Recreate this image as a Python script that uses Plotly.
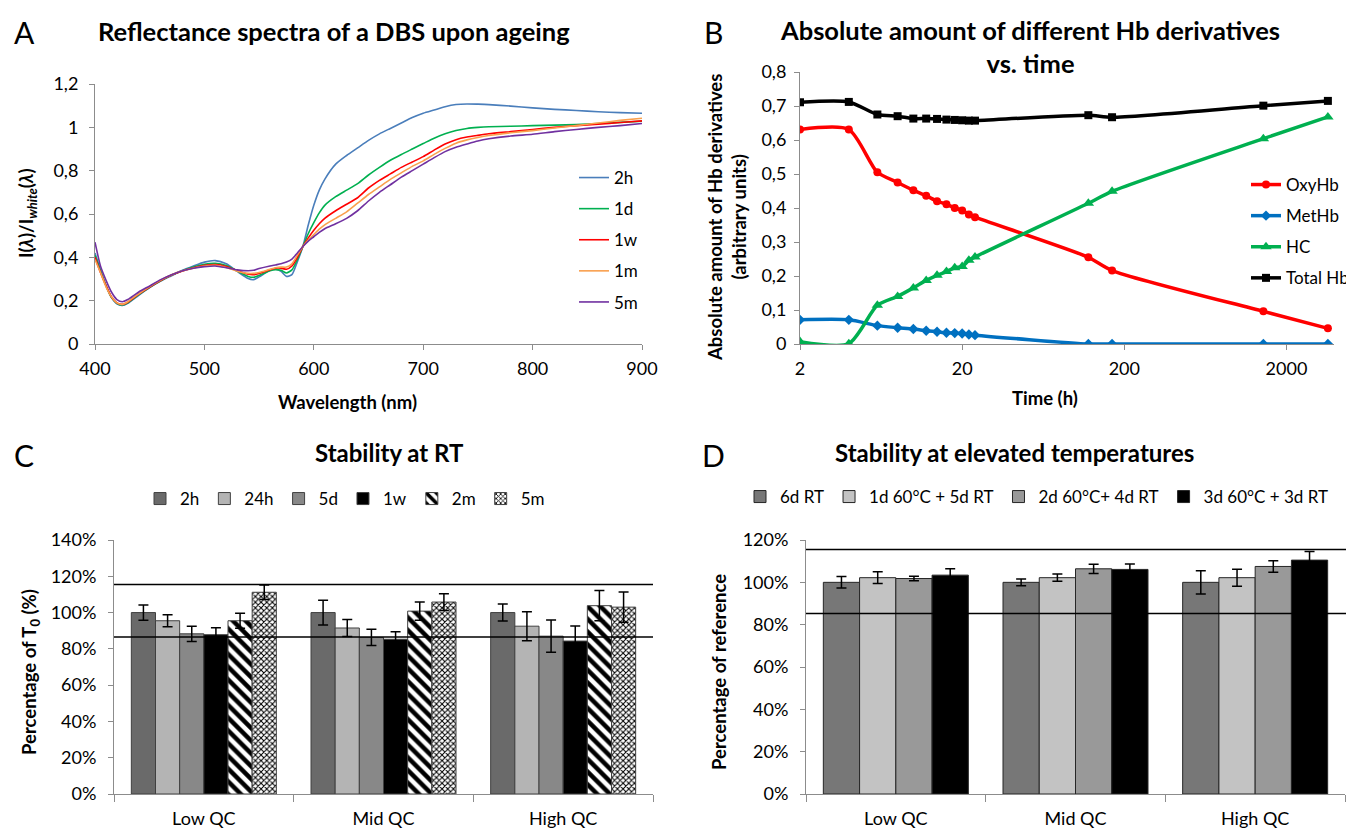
import plotly.graph_objects as go

# The page has an 8 px body margin, so the figure is sized to fill the rest of the window.
OFF = 8
FW, FH = 1354 - OFF, 828 - OFF
def px(x): return (x - OFF) / FW
def py(y): return 1 - (y - OFF) / FH

FONT = "Lato, Carlito, Calibri, sans-serif"

# ---------------- Panel A data: reflectance spectra ----------------
wavelength = [400,405,410,415,420,425,430,440,450,460,470,480,490,500,510,520,530,540,545,550,
              560,565,570,575,580,585,590,595,600,605,610,620,630,640,650,660,670,680,690,700,
              710,720,730,740,750,760,780,800,820,840,860,880,900]
refl_2h = [0.42,0.34,0.27,0.215,0.185,0.178,0.188,0.225,0.26,0.29,0.315,0.34,0.36,0.378,0.385,0.37,0.335,0.302,0.297,0.31,
           0.34,0.345,0.335,0.312,0.32,0.38,0.45,0.55,0.64,0.71,0.76,0.83,0.87,0.905,0.94,0.97,0.995,1.02,1.045,1.065,
           1.08,1.095,1.105,1.108,1.107,1.105,1.098,1.09,1.083,1.078,1.072,1.068,1.065]
refl_1d = [0.41,0.34,0.27,0.215,0.188,0.18,0.19,0.228,0.262,0.292,0.318,0.338,0.355,0.368,0.372,0.362,0.337,0.312,0.308,0.316,
           0.338,0.343,0.34,0.328,0.342,0.39,0.45,0.51,0.56,0.605,0.64,0.68,0.71,0.74,0.78,0.815,0.848,0.875,0.9,0.925,
           0.95,0.97,0.985,0.995,1.0,1.003,1.005,1.008,1.01,1.013,1.018,1.023,1.028]
refl_1w = [0.40,0.33,0.27,0.218,0.19,0.183,0.193,0.23,0.263,0.293,0.318,0.337,0.352,0.363,0.367,0.358,0.338,0.322,0.32,0.325,
           0.343,0.35,0.35,0.345,0.36,0.40,0.45,0.49,0.525,0.555,0.58,0.615,0.645,0.675,0.72,0.755,0.785,0.815,0.84,0.865,
           0.895,0.923,0.943,0.955,0.963,0.97,0.98,0.99,1.0,1.008,1.015,1.022,1.03]
refl_1m = [0.39,0.33,0.265,0.218,0.19,0.183,0.195,0.232,0.265,0.295,0.32,0.338,0.35,0.36,0.363,0.353,0.336,0.326,0.326,0.33,
           0.345,0.352,0.355,0.355,0.37,0.41,0.45,0.48,0.505,0.53,0.55,0.58,0.61,0.65,0.69,0.725,0.76,0.79,0.82,0.845,
           0.875,0.903,0.927,0.942,0.953,0.962,0.975,0.985,0.997,1.008,1.02,1.032,1.042]
refl_5m = [0.47,0.36,0.295,0.24,0.205,0.195,0.205,0.24,0.268,0.297,0.32,0.338,0.35,0.357,0.36,0.352,0.342,0.338,0.34,0.348,
           0.36,0.365,0.37,0.378,0.392,0.42,0.45,0.475,0.495,0.515,0.532,0.555,0.58,0.615,0.66,0.70,0.735,0.77,0.80,0.83,
           0.86,0.888,0.908,0.923,0.937,0.947,0.96,0.968,0.98,0.99,1.0,1.008,1.018]
spectra_names = ["2h", "1d", "1w", "1m", "5m"]
spectra_colors = ["#4a7ebb", "#00b050", "#ff0000", "#f9a04e", "#7030a0"]

# ---------------- Panel B data: Hb derivatives vs time ----------------
time_h = [2, 4, 6, 8, 10, 12, 14, 16, 18, 20, 22, 24, 120, 168, 1440, 3600]
oxyhb = [0.631,0.631,0.505,0.475,0.452,0.436,0.420,0.411,0.400,0.393,0.381,0.373,0.255,0.216,0.096,0.046]
methb = [0.071,0.071,0.054,0.048,0.044,0.039,0.036,0.033,0.032,0.031,0.028,0.026,0.0,0.0,0.0,0.0]
hc = [0.007,0.001,0.114,0.140,0.165,0.187,0.202,0.213,0.224,0.228,0.246,0.256,0.414,0.449,0.604,0.668]
total_hb = [0.711,0.712,0.675,0.670,0.663,0.663,0.662,0.660,0.659,0.658,0.657,0.657,0.673,0.667,0.701,0.715]

# ---------------- Panel C data: stability at RT ----------------
qc_levels = ["Low QC", "Mid QC", "High QC"]
rt_labels = ["2h", "24h", "5d", "1w", "2m", "5m"]
rt_2h = [100.0, 100.0, 100.0];  rt_2h_err = [4.2, 6.8, 4.7]
rt_24h = [95.5, 91.5, 92.5];    rt_24h_err = [3.3, 4.7, 8.0]
rt_5d = [88.3, 86.3, 87.0];     rt_5d_err = [4.2, 4.5, 8.9]
rt_1w = [87.8, 85.3, 84.3];     rt_1w_err = [3.8, 4.1, 8.3]
rt_2m = [95.5, 100.8, 103.8];   rt_2m_err = [4.1, 5.0, 8.3]
rt_5m = [111.2, 105.8, 103.0];  rt_5m_err = [4.0, 4.6, 8.3]
rt_limits = [115.5, 86.5]

# ---------------- Panel D data: elevated temperatures ----------------
el_labels = ["6d RT", "1d 60°C + 5d RT", "2d 60°C+ 4d RT", "3d 60°C + 3d RT"]
el_6d = [100.0, 100.0, 100.0];   el_6d_err = [2.7, 1.6, 5.5]
el_1d = [102.2, 102.2, 102.2];   el_1d_err = [2.8, 1.7, 4.0]
el_2d = [101.8, 106.4, 107.5];   el_2d_err = [1.1, 2.2, 2.7]
el_3d = [103.4, 106.1, 110.5];   el_3d_err = [3.0, 2.6, 4.1]
el_limits = [115.5, 85.3]

TICK = 18
LEG = 17

fig = go.Figure()

# Panel A
for name, ys, col in zip(spectra_names, [refl_2h, refl_1d, refl_1w, refl_1m, refl_5m], spectra_colors):
    fig.add_trace(go.Scatter(x=wavelength, y=ys, name=name, mode="lines",
                             line=dict(color=col, width=1.6, shape="spline", smoothing=0.6),
                             xaxis="x", yaxis="y", legend="legend", legendgroup=name))

# Panel B
b_series = [("OxyHb", oxyhb, "#ff0000", "circle", 8),
            ("MetHb", methb, "#0070c0", "diamond", 8),
            ("HC", hc, "#00b050", "triangle-up", 10),
            ("Total Hb", total_hb, "#000000", "square", 8)]
for name, ys, col, sym, sz in b_series:
    fig.add_trace(go.Scatter(x=time_h, y=ys, name=name, mode="lines+markers",
                             line=dict(color=col, width=3.5, shape="spline", smoothing=0.7),
                             marker=dict(color=col, symbol=sym, size=sz),
                             xaxis="x2", yaxis="y2", legend="legend2", legendgroup="b" + name))

# Panel C
rt_vals = [rt_2h, rt_24h, rt_5d, rt_1w, rt_2m, rt_5m]
rt_errs = [rt_2h_err, rt_24h_err, rt_5d_err, rt_1w_err, rt_2m_err, rt_5m_err]
rt_fill = ["#6a6a6a", "#b4b4b4", "#888888", "#000000", "#ffffff", "#ffffff"]
rt_pattern = [None, None, None, None,
              dict(shape="\\", fgcolor="#000000", bgcolor="#ffffff", size=9, solidity=0.5, fillmode="replace"),
              dict(shape="x", fgcolor="#000000", bgcolor="#ffffff", size=4, solidity=0.45, fillmode="replace")]
for lab, v, e, fc, pat in zip(rt_labels, rt_vals, rt_errs, rt_fill, rt_pattern):
    mk = dict(color=fc, line=dict(color="#404040", width=1))
    if pat:
        mk["pattern"] = pat
    fig.add_trace(go.Bar(x=qc_levels, y=v, name=lab, marker=mk,
                         error_y=dict(type="data", array=e, color="#000000", thickness=1.5, width=5),
                         xaxis="x3", yaxis="y3", legend="legend3"))

# Panel D
el_vals = [el_6d, el_1d, el_2d, el_3d]
el_errs = [el_6d_err, el_1d_err, el_2d_err, el_3d_err]
el_fill = ["#777777", "#c3c3c3", "#999999", "#000000"]
for lab, v, e, fc in zip(el_labels, el_vals, el_errs, el_fill):
    fig.add_trace(go.Bar(x=qc_levels, y=v, name=lab,
                         marker=dict(color=fc, line=dict(color="#262626", width=1)),
                         error_y=dict(type="data", array=e, color="#000000", thickness=1.5, width=5),
                         xaxis="x4", yaxis="y4", legend="legend4"))

# reference lines
shapes = []
for lim in rt_limits:
    shapes.append(dict(type="line", xref="paper", yref="y3", x0=px(114), x1=px(653), y0=lim, y1=lim,
                       line=dict(color="#000000", width=1.5)))
for lim in el_limits:
    shapes.append(dict(type="line", xref="paper", yref="y4", x0=px(806), x1=1.0, y0=lim, y1=lim,
                       line=dict(color="#000000", width=1.5)))

axis_common = dict(showgrid=False, zeroline=False, showline=True, linecolor="#8c8c8c", linewidth=1,
                   ticks="outside", tickcolor="#8c8c8c", ticklen=5, automargin=False,
                   tickfont=dict(family=FONT, size=TICK, color="#000000"))

layout = dict(
    width=FW, height=FH, margin=dict(l=0, r=0, t=0, b=0, autoexpand=False),
    paper_bgcolor="white", plot_bgcolor="white",
    separators=", ", font=dict(family=FONT, color="#000000"),
    barmode="group", bargap=0.193, bargroupgap=0,
    shapes=shapes,
    xaxis=dict(axis_common, domain=[px(95), px(642)], range=[400, 900], dtick=100, anchor="y",
               ticklabelstandoff=3),
    yaxis=dict(axis_common, domain=[py(344), py(84)], range=[0, 1.2], dtick=0.2, anchor="x",
               ticklabelstandoff=7),
    xaxis2=dict(axis_common, domain=[px(800), px(1334)], type="log",
                range=[0.30103, 3.594], tickvals=[2, 20, 200, 2000], ticktext=["2", "20", "200", "2000"],
                anchor="y2", ticklabelstandoff=3),
    yaxis2=dict(axis_common, domain=[py(344), py(72)], range=[0, 0.8], dtick=0.1, anchor="x2",
                ticklabelstandoff=4),
    xaxis3=dict(axis_common, domain=[px(114), px(653)], anchor="y3", tickson="boundaries",
                ticklen=7, ticklabelstandoff=8),
    yaxis3=dict(axis_common, domain=[py(794), py(540)], range=[0, 140], dtick=20, ticksuffix="%",
                anchor="x3", ticklabelstandoff=8),
    xaxis4=dict(axis_common, domain=[px(806), px(1345)], anchor="y4", tickson="boundaries",
                ticklen=7, ticklabelstandoff=8),
    yaxis4=dict(axis_common, domain=[py(794), py(540)], range=[0, 120], dtick=20, ticksuffix="%",
                anchor="x4", ticklabelstandoff=8),
    legend=dict(x=px(574), y=py(160), xanchor="left", yanchor="top", font=dict(family=FONT, size=LEG),
                tracegroupgap=6, bgcolor="rgba(0,0,0,0)"),
    legend2=dict(x=px(1246), y=py(167), xanchor="left", yanchor="top", font=dict(family=FONT, size=LEG),
                 tracegroupgap=6, bgcolor="rgba(0,0,0,0)"),
    legend3=dict(x=px(140), y=py(499), xanchor="left", yanchor="middle", orientation="h",
                 font=dict(family=FONT, size=LEG), bgcolor="rgba(0,0,0,0)"),
    legend4=dict(x=px(740), y=py(497), xanchor="left", yanchor="middle", orientation="h",
                 font=dict(family=FONT, size=LEG), bgcolor="rgba(0,0,0,0)"),
)

def ann(text, x, y, size=18.5, bold=False, angle=0):
    return dict(text=("<b>%s</b>" % text) if bold else text, x=px(x), y=py(y), xref="paper", yref="paper",
                showarrow=False, xanchor="center", yanchor="middle", textangle=angle,
                font=dict(family=FONT, size=size, color="#000000"))

annotations = [
    ann("A", 24, 32, size=30), ann("B", 713, 32, size=30), ann("C", 24, 455, size=30), ann("D", 713, 455, size=30),
    ann("Reflectance spectra of a DBS upon ageing", 334, 31, size=25.5, bold=True),
    ann("Absolute amount of different Hb derivatives<br>vs. time", 1030, 46, size=25.5, bold=True),
    ann("Stability at RT", 389, 452, size=24, bold=True),
    ann("Stability at elevated temperatures", 1014, 452, size=24, bold=True),
    ann("Wavelength (nm)", 347, 402, bold=True),
    ann("I(<i>λ</i>)/I<sub><i>white</i></sub>(<i>λ</i>)", 27, 214, bold=True, angle=-90),
    ann("Time (h)", 1045, 398, bold=True),
    ann("Absolute amount of Hb derivatives<br>(arbitrary units)", 727, 218, bold=True, angle=-90),
    ann("Percentage of T<sub>0</sub> (%)", 30, 672, bold=True, angle=-90),
    ann("Percentage of reference", 719, 672, bold=True, angle=-90),
]
layout["annotations"] = annotations

fig.update_layout(**layout)
fig.write_html("out.html")
